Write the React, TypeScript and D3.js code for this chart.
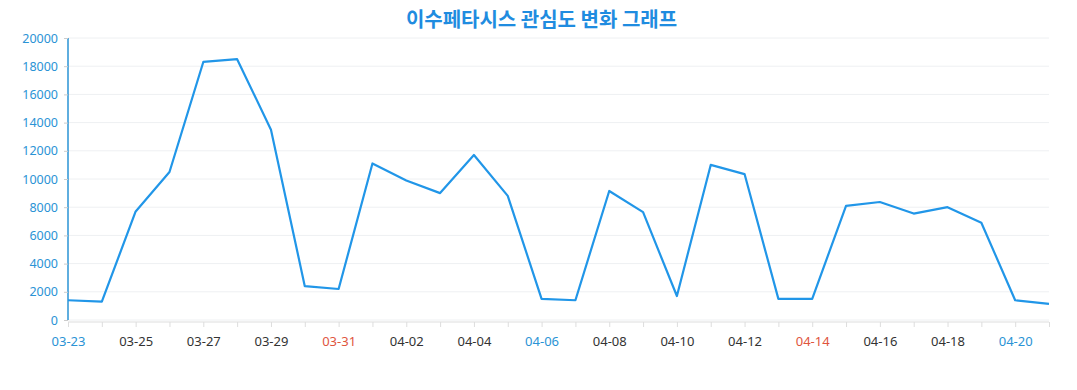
import { useEffect, useRef } from 'react'
import * as d3 from 'd3'

const dates = [
  '03-23', '03-24', '03-25', '03-26', '03-27', '03-28', '03-29', '03-30',
  '03-31', '04-01', '04-02', '04-03', '04-04', '04-05', '04-06', '04-07',
  '04-08', '04-09', '04-10', '04-11', '04-12', '04-13', '04-14', '04-15',
  '04-16', '04-17', '04-18', '04-19', '04-20', '04-21',
]

const interest = [
  1400, 1300, 7700, 10500, 18300, 18500, 13500, 2400,
  2200, 11100, 9900, 9000, 11700, 8800, 1500, 1400,
  9150, 7650, 1700, 11000, 10350, 1500, 1500, 8100,
  8370, 7550, 8000, 6900, 1400, 1150,
]

const yTicks = [0, 2000, 4000, 6000, 8000, 10000, 12000, 14000, 16000, 18000, 20000]

const blueLabels = ['03-23', '04-06', '04-20']
const redLabels = ['03-31', '04-14']

const title = '이수페타시스 관심도 변화 그래프'

const width = 1077
const height = 390
const margin = { top: 38, right: 28, bottom: 68, left: 68 }

const App = () => {
  const xAxisRef = useRef<SVGGElement>(null)
  const yAxisRef = useRef<SVGGElement>(null)

  const xScale = d3
    .scalePoint<string>()
    .domain(dates)
    .range([margin.left, width - margin.right])

  const yScale = d3
    .scaleLinear()
    .domain([0, 20000])
    .range([height - margin.bottom - 2, margin.top])

  const line = d3
    .line<number>()
    .x((_, i) => xScale(dates[i]) as number)
    .y(d => yScale(d))

  const labelColor = (d: string) =>
    blueLabels.includes(d) ? '#2a93d5' : redLabels.includes(d) ? '#e0553d' : '#333'

  useEffect(() => {
    const xAxis = d3
      .axisBottom(xScale)
      .tickSize(5)
      .tickPadding(10)
      .tickFormat((d, i) => (i % 2 === 0 ? d : ''))
    const gx = d3.select(xAxisRef.current!)
    gx.call(xAxis)
    gx.select('.domain').attr('stroke', '#ddd').attr('d', `M${margin.left},0H${width - margin.right}`)
    gx.selectAll('.tick line').attr('stroke', '#ddd')
    gx.selectAll<SVGTextElement, string>('.tick text')
      .attr('fill', d => labelColor(d))
      .style('font-family', '"Noto Sans", sans-serif')
      .style('font-size', '13px')

    const yAxis = d3
      .axisLeft(yScale)
      .tickValues(yTicks)
      .tickSize(4)
      .tickPadding(6)
      .tickFormat(d3.format('d'))
    const gy = d3.select(yAxisRef.current!)
    gy.call(yAxis)
    gy.select('.domain').attr('stroke', '#2a93d5').attr('stroke-width', 1.5).attr('d', `M0,${yScale(20000)}V${yScale(0)}`)
    gy.selectAll('.tick line').attr('stroke', '#ccc')
    gy.selectAll('.tick text')
      .attr('fill', '#2a93d5')
      .style('font-family', '"Noto Sans", sans-serif')
      .style('font-size', '12.5px')
  }, [])

  return (
    <svg width={width} height={height} style={{ display: 'block', margin: '-8px' }}>
      <rect width={width} height={height} fill="#fff" />
      <text
        x={width / 2 + 3}
        y={27}
        textAnchor="middle"
        fill="#1f8ce0"
        fontSize={20}
        fontWeight="bold"
        fontFamily='"Noto Sans CJK KR", sans-serif'
      >
        {title}
      </text>
      {yTicks.map(t => (
        <line
          key={t}
          x1={margin.left}
          x2={width - margin.right}
          y1={yScale(t)}
          y2={yScale(t)}
          stroke="#eef0f2"
        />
      ))}
      <g ref={xAxisRef} transform={`translate(0, ${height - margin.bottom})`} />
      <g ref={yAxisRef} transform={`translate(${margin.left}, 0)`} />
      <path d={line(interest) ?? ''} fill="none" stroke="#2196e8" strokeWidth={2.2} strokeLinejoin="round" />
    </svg>
  )
}

export default App
